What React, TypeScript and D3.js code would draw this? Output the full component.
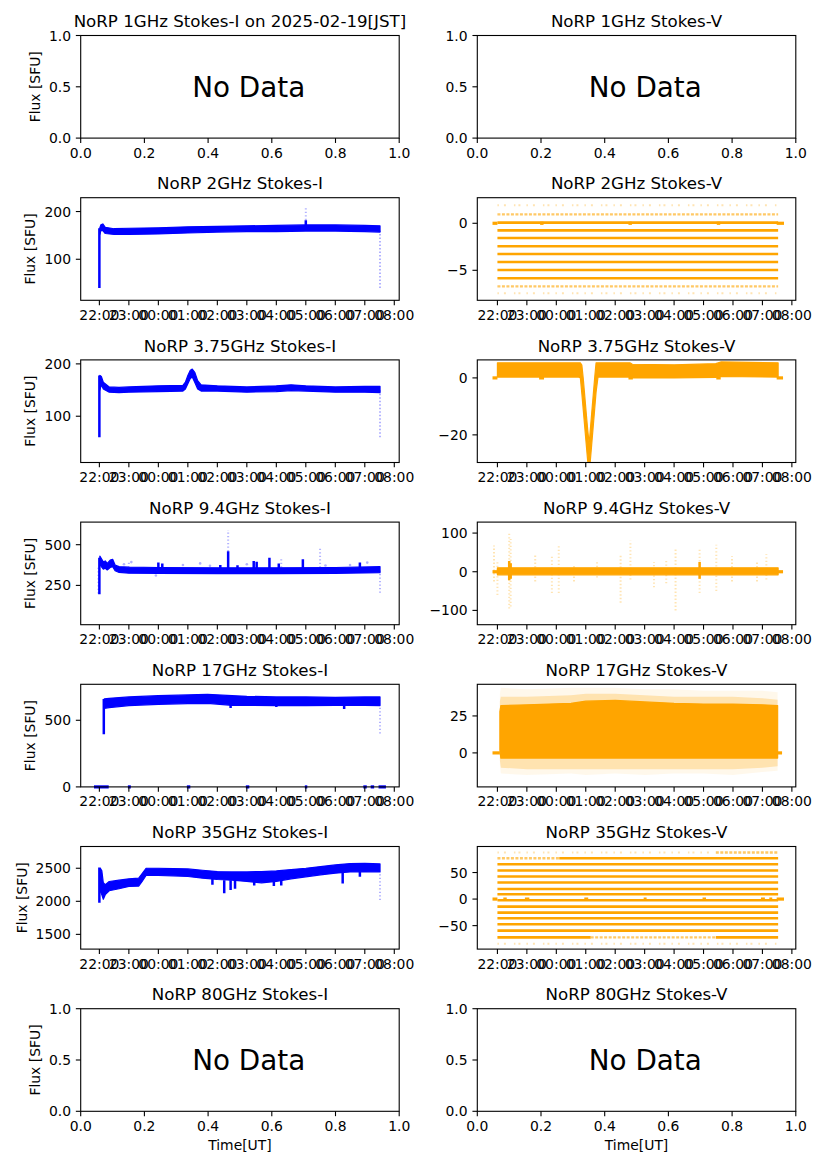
import * as d3 from "d3";

type Seg = [string, number, number]; // time, low, high
type Span = [string, string];
type Level = [number, string, string]; // value, from, to
type Pt = [string, number];
type Band = { t: string[]; lo: number[]; hi: number[] };

const BLUE = "#0000ff";
const ORANGE = "#ffa500";
const FONT = "DejaVu Sans, sans-serif";

const W = 827, H = 1169;
const COL_X = [80.7, 477.3];
const AX_W = 318.5;
const ROW_Y0 = 35.5, ROW_STEP = 162.2, AX_H = 102.6;
const FS = 13.9; // 10pt @ 100dpi

const FREQS = ["1GHz", "2GHz", "3.75GHz", "9.4GHz", "17GHz", "35GHz", "80GHz"];
const DATE_JST = "2025-02-19";

const HOUR_TICKS = ["22:00", "23:00", "00:00", "01:00", "02:00", "03:00", "04:00", "05:00", "06:00", "07:00", "08:00"];
const X_SPAN_LEFT: Span = ["21:22", "08:10"];
const X_SPAN_RIGHT: Span = ["21:19", "08:08"];
const NODATA_X = [0, 0.2, 0.4, 0.6, 0.8, 1.0];
const NODATA_Y = [0, 0.5, 1.0];

// ---- 2 GHz Stokes-I
const I2_T = ["22:01", "22:03", "22:07", "22:12", "22:30", "23:00", "00:00", "01:00", "02:00", "03:00", "04:00", "05:00", "06:00", "07:00", "07:31"];
const I2_LO = [152, 160, 160, 154, 152, 152, 153, 155, 157, 158, 158, 159, 159, 158, 157];
const I2_HI = [166, 172, 174, 167, 164, 165, 166, 168, 169, 170, 171, 172, 172, 171, 170];
const I2_SOLID: Seg[] = [["22:00", 40, 165], ["05:00", 165, 182]];
const I2_FAINT: Seg[] = [["05:00", 175, 208], ["07:31", 40, 160]];

// ---- 3.75 GHz Stokes-I
const I375_T = ["22:01", "22:04", "22:08", "22:20", "22:40", "23:00", "00:00", "00:50", "00:55", "01:00", "01:05", "01:09", "01:14", "01:20", "01:27", "02:00", "03:00", "04:00", "04:30", "05:00", "06:00", "07:00", "07:31"];
const I375_LO = [150, 160, 152, 146, 145, 146, 147, 148, 152, 162, 172, 175, 165, 152, 148, 148, 146, 147, 149, 148, 146, 146, 145];
const I375_HI = [178, 176, 165, 156, 155, 156, 158, 159, 165, 178, 188, 190, 184, 168, 160, 158, 156, 158, 160, 158, 156, 157, 157];
const I375_SOLID: Seg[] = [["22:00", 60, 178]];
const I375_FAINT: Seg[] = [["07:31", 60, 150]];

// ---- 9.4 GHz Stokes-I
const I94_T = ["22:01", "22:04", "22:08", "22:12", "22:16", "22:22", "22:27", "22:32", "22:40", "23:00", "00:00", "02:00", "04:00", "06:00", "07:31"];
const I94_LO = [380, 365, 350, 355, 345, 360, 365, 340, 330, 325, 324, 322, 322, 324, 328];
const I94_HI = [430, 415, 395, 400, 385, 405, 410, 375, 365, 362, 360, 358, 358, 360, 365];
const I94_SOLID: Seg[] = [["22:00", 195, 420], ["00:00", 345, 390], ["00:08", 345, 385], ["02:06", 345, 375], ["02:22", 345, 460], ["02:41", 345, 373], ["03:14", 345, 400], ["03:20", 345, 395], ["03:46", 345, 420], ["04:05", 345, 385], ["04:54", 345, 410], ["06:50", 345, 390]];
const I94_FAINT: Seg[] = [["21:58", 200, 365], ["02:22", 460, 590], ["05:29", 360, 475], ["04:10", 360, 415], ["23:00", 360, 395], ["07:31", 205, 340]];
const I94_DOTS: Pt[] = [["23:05", 393], ["00:50", 375], ["01:25", 385], ["01:45", 370], ["06:30", 375], ["07:05", 390], ["23:55", 311], ["22:50", 380], ["03:00", 380], ["05:40", 372]];

// ---- 17 GHz Stokes-I
const I17_T = ["22:10", "22:20", "23:00", "00:00", "01:00", "01:40", "02:30", "03:00", "04:00", "05:00", "06:00", "07:00", "07:31"];
const I17_LO = [590, 595, 610, 620, 625, 627, 612, 612, 610, 610, 612, 612, 610];
const I17_HI = [660, 665, 675, 685, 690, 695, 685, 680, 675, 675, 672, 675, 675];
const I17_SOLID: Seg[] = [["22:09", 395, 660], ["02:27", 592, 620], ["04:00", 600, 615], ["06:18", 585, 615]];
const I17_FAINT: Seg[] = [["07:31", 400, 610]];
const I17_ZEROS: Span[] = [["21:49", "22:19"], ["22:58", "23:04"], ["00:58", "01:05"], ["02:58", "03:05"], ["04:58", "05:03"], ["06:57", "07:04"], ["07:12", "07:19"], ["07:28", "07:43"]];

// ---- 35 GHz Stokes-I
const I35_T = ["22:02", "22:05", "22:08", "22:12", "22:20", "22:40", "23:00", "23:20", "23:27", "23:35", "00:00", "00:30", "01:00", "01:30", "02:00", "02:30", "03:00", "03:30", "04:00", "04:30", "05:00", "05:30", "06:00", "06:30", "07:00", "07:31"];
const I35_LO = [2150, 2100, 2030, 2100, 2160, 2190, 2225, 2230, 2300, 2390, 2390, 2385, 2375, 2350, 2330, 2320, 2300, 2280, 2300, 2340, 2370, 2400, 2425, 2445, 2450, 2445];
const I35_HI = [2500, 2460, 2280, 2250, 2300, 2320, 2340, 2350, 2420, 2500, 2500, 2495, 2490, 2470, 2450, 2445, 2445, 2450, 2460, 2480, 2500, 2525, 2550, 2570, 2575, 2565];
const I35_SOLID: Seg[] = [["22:00", 1980, 2510], ["01:50", 2250, 2350], ["02:14", 2120, 2320], ["02:27", 2170, 2320], ["02:36", 2190, 2320], ["03:15", 2240, 2300], ["03:55", 2230, 2330], ["04:10", 2240, 2340], ["06:15", 2270, 2450], ["06:50", 2370, 2450]];
const I35_FAINT: Seg[] = [["07:31", 2020, 2440]];

// ---- 2 GHz Stokes-V (quantised levels)
const V2_SPAN: Span = ["22:00", "07:32"];
const V2_SOLID = [0.07, -0.75, -1.56, -2.45, -3.27, -4.12, -4.97, -5.85];
const V2_SEMI = [0.95, -6.71];
const V2_SPARSE = [1.91, -7.45];
const V2_ZEROS: Span[] = [["21:50", "22:00"], ["23:27", "23:34"], ["02:27", "02:34"], ["05:27", "05:34"], ["07:29", "07:44"]];

// ---- 3.75 GHz Stokes-V
const V375_T = ["22:00", "00:45", "00:49", "00:52", "00:55", "00:58", "01:01", "01:04", "01:07", "01:09", "01:12", "01:15", "01:18", "01:21", "01:25", "02:30", "02:35", "04:00", "05:25", "05:35", "07:32"];
const V375_LO = [0.3, 0.3, 0, -5.5, -11.4, -17.4, -23.4, -29.3, -29.7, -29.7, -23.6, -17.5, -11.3, -5, 0.3, 0.3, 0, 0, 0.2, 0.5, 0.3];
const V375_HI = [5.3, 5.3, 5.3, 4.5, -0.4, -6.4, -12.4, -18.3, -23.1, -18.8, -12.6, -6.5, -0.3, 5.3, 5.3, 5.3, 4.8, 4.6, 5.0, 5.6, 5.3];
const V375_ZEROS: Span[] = [["21:50", "22:00"], ["23:25", "23:35"], ["02:27", "02:36"], ["05:26", "05:35"], ["07:29", "07:42"]];

// ---- 9.4 GHz Stokes-V
const V94_T = ["22:00", "07:32"];
const V94_LO = [-8, -8];
const V94_HI = [10, 10];
const V94_SOLID: Seg[] = [["22:24", -22, 28], ["22:27", -18, 22], ["04:52", -18, 25]];
const V94_FAINT: Seg[] = [["21:53", -25, 68], ["22:00", -60, 30], ["22:24", -95, 100], ["22:27", -90, 85], ["23:17", -25, 45], ["23:51", -55, 40], ["00:05", -55, 70], ["00:36", -25, 20], ["01:23", -15, 25], ["02:11", -80, 45], ["02:31", -20, 80], ["03:19", -40, 25], ["03:44", -30, 30], ["04:03", -100, 60], ["04:52", -55, 62], ["05:26", -50, 70], ["05:58", -25, 40], ["06:49", -25, 25], ["07:08", -20, 45]];
const V94_ZEROS: Span[] = [["21:50", "22:00"], ["07:30", "07:42"]];

// ---- 17 GHz Stokes-V
const V17_T = ["22:05", "22:07", "23:00", "00:30", "01:00", "02:00", "03:00", "04:00", "05:00", "06:00", "07:00", "07:31"];
const V17_LO = [2, -3.5, -3.5, -3.5, -3.5, -3.5, -3.5, -3.5, -3.5, -3.5, -3.5, -3.5];
const V17_HI = [28, 32, 32.5, 33.5, 35, 35.5, 34.5, 33.5, 33, 33, 32.5, 32];
const V17_HALO_LO = [-5, -10, -11, -11, -11, -11, -11, -11, -11, -11, -10, -9];
const V17_HALO_HI = [35, 38, 38, 39, 40, 40, 39, 38, 38, 38, 37, 36];
const V17_OUTER_LO = [-8, -14, -15, -14, -15, -14, -15, -14, -14, -15, -13, -12];
const V17_OUTER_HI = [40, 44, 43, 44, 44, 44, 43, 43, 42, 42, 42, 41];
const V17_ZEROS: Span[] = [["21:50", "22:05"], ["07:30", "07:40"]];

// ---- 35 GHz Stokes-V (quantised levels)
const V35_SOLID: Level[] = [
  [77, "00:06", "07:32"], [65.7, "22:00", "07:32"], [53.7, "22:00", "07:32"], [42.4, "22:00", "07:32"],
  [31.1, "22:00", "07:32"], [19.1, "22:00", "07:32"], [9.1, "22:00", "07:32"], [-2.3, "22:00", "07:32"],
  [-14.2, "22:00", "07:32"], [-25.5, "22:00", "07:32"], [-36.2, "22:00", "07:32"], [-47.5, "22:00", "07:32"],
  [-59.5, "22:00", "07:32"], [-72.1, "22:00", "01:10"], [-72.1, "05:25", "07:32"],
];
const V35_SEMI: Level[] = [[77, "22:00", "00:06"], [-72.1, "01:10", "05:25"], [87.7, "05:25", "07:32"]];
const V35_SPARSE: Level[] = [[87.7, "22:00", "05:25"], [-84, "22:00", "07:32"]];
const V35_ZEROS: Span[] = [["21:50", "22:00"], ["22:12", "22:19"], ["22:56", "23:05"], ["00:57", "01:05"], ["02:58", "03:04"], ["04:58", "05:05"], ["06:57", "07:05"], ["07:14", "07:20"], ["07:29", "07:44"]];

type Panel = {
  title: string;
  color: string;
  y?: [number, number];
  yTicks?: number[];
  band?: Band;
  halo?: Band;
  outer?: Band;
  solid?: Seg[];
  faint?: Seg[];
  dots?: Pt[];
  levels?: Level[];
  semi?: Level[];
  sparse?: Level[];
  zeros?: Span[];
};

const onSpan = (vals: number[], s: Span): Level[] => vals.map((v) => [v, s[0], s[1]]);

const ROWS: [Panel, Panel][] = [
  [
    { title: `NoRP ${FREQS[0]} Stokes-I on ${DATE_JST}[JST]`, color: BLUE },
    { title: `NoRP ${FREQS[0]} Stokes-V`, color: ORANGE },
  ],
  [
    { title: `NoRP ${FREQS[1]} Stokes-I`, color: BLUE, y: [14, 229], yTicks: [100, 200], band: { t: I2_T, lo: I2_LO, hi: I2_HI }, solid: I2_SOLID, faint: I2_FAINT },
    { title: `NoRP ${FREQS[1]} Stokes-V`, color: ORANGE, y: [-8.19, 2.72], yTicks: [-5, 0], levels: onSpan(V2_SOLID, V2_SPAN), semi: onSpan(V2_SEMI, V2_SPAN), sparse: onSpan(V2_SPARSE, V2_SPAN), zeros: V2_ZEROS },
  ],
  [
    { title: `NoRP ${FREQS[2]} Stokes-I`, color: BLUE, y: [11.6, 207.6], yTicks: [100, 200], band: { t: I375_T, lo: I375_LO, hi: I375_HI }, solid: I375_SOLID, faint: I375_FAINT },
    { title: `NoRP ${FREQS[2]} Stokes-V`, color: ORANGE, y: [-29.7, 6.32], yTicks: [-20, 0], band: { t: V375_T, lo: V375_LO, hi: V375_HI }, zeros: V375_ZEROS },
  ],
  [
    { title: `NoRP ${FREQS[3]} Stokes-I`, color: BLUE, y: [8.6, 638.8], yTicks: [250, 500], band: { t: I94_T, lo: I94_LO, hi: I94_HI }, solid: I94_SOLID, faint: I94_FAINT, dots: I94_DOTS },
    { title: `NoRP ${FREQS[3]} Stokes-V`, color: ORANGE, y: [-137, 128.4], yTicks: [-100, 0, 100], band: { t: V94_T, lo: V94_LO, hi: V94_HI }, solid: V94_SOLID, faint: V94_FAINT, zeros: V94_ZEROS },
  ],
  [
    { title: `NoRP ${FREQS[4]} Stokes-I`, color: BLUE, y: [0, 770], yTicks: [0, 500], band: { t: I17_T, lo: I17_LO, hi: I17_HI }, solid: I17_SOLID, faint: I17_FAINT, zeros: I17_ZEROS },
    { title: `NoRP ${FREQS[4]} Stokes-V`, color: ORANGE, y: [-23, 46.4], yTicks: [0, 25], band: { t: V17_T, lo: V17_LO, hi: V17_HI }, halo: { t: V17_T, lo: V17_HALO_LO, hi: V17_HALO_HI }, outer: { t: V17_T, lo: V17_OUTER_LO, hi: V17_OUTER_HI }, zeros: V17_ZEROS },
  ],
  [
    { title: `NoRP ${FREQS[5]} Stokes-I`, color: BLUE, y: [1277, 2829], yTicks: [1500, 2000, 2500], band: { t: I35_T, lo: I35_LO, hi: I35_HI }, solid: I35_SOLID, faint: I35_FAINT },
    { title: `NoRP ${FREQS[5]} Stokes-V`, color: ORANGE, y: [-94.2, 99], yTicks: [-50, 0, 50], levels: V35_SOLID, semi: V35_SEMI, sparse: V35_SPARSE, zeros: V35_ZEROS },
  ],
  [
    { title: `NoRP ${FREQS[6]} Stokes-I`, color: BLUE },
    { title: `NoRP ${FREQS[6]} Stokes-V`, color: ORANGE },
  ],
];

// "HH:MM" in UT -> Date (evening hours belong to 02-18, morning to 02-19)
const toDate = (s: string) => {
  const [h, m] = s.split(":").map(Number);
  return new Date(Date.UTC(2025, 1, h >= 12 ? 18 : 19, h, m));
};

const CHAR_W: Record<string, number> = { ".": 0.318, "\u2212": 0.838, "-": 0.361 };
const textW = (s: string) => [...s].reduce((a, c) => a + (CHAR_W[c] ?? 0.636), 0) * FS;

function Axes({ row, col, p }: { row: number; col: number; p: Panel }) {
  const left = COL_X[col], top = ROW_Y0 + row * ROW_STEP;
  const right = left + AX_W, bottom = top + AX_H;
  const timed = !!p.y;
  const y = d3.scaleLinear().domain(p.y ?? [0, 1]).range([bottom, top]);
  const span = col === 0 ? X_SPAN_LEFT : X_SPAN_RIGHT;
  const xt = d3.scaleUtc().domain(span.map(toDate)).range([left, right]);
  const xn = d3.scaleLinear().domain([0, 1]).range([left, right]);
  const X = (s: string) => xt(toDate(s));
  const f1 = d3.format(".1f");
  const fy = timed ? d3.format("d") : f1;

  const xTicks = timed
    ? HOUR_TICKS.map((s) => ({ pos: X(s), label: s }))
    : NODATA_X.map((v) => ({ pos: xn(v), label: f1(v) }));
  const yTicks = (p.yTicks ?? NODATA_Y).map((v) => ({ pos: y(v), label: fy(v) }));
  const maxW = d3.max(yTicks, (d) => textW(d.label)) ?? 0;

  const area = (b: Band) =>
    d3.area<number>().x((i) => X(b.t[i])).y0((i) => y(b.lo[i])).y1((i) => y(b.hi[i]))(d3.range(b.t.length)) ?? "";
  const clipId = `clip-${row}-${col}`;
  const c = p.color;

  const levelLine = (l: Level, i: number, style: Record<string, unknown>) => (
    <line key={i} x1={X(l[1])} x2={X(l[2])} y1={y(l[0])} y2={y(l[0])} stroke={c} {...style} />
  );

  return (
    <g>
      <defs>
        <clipPath id={clipId}>
          <rect x={left} y={top} width={AX_W} height={AX_H} />
        </clipPath>
      </defs>
      <g clipPath={`url(#${clipId})`}>
        {p.outer && <path d={area(p.outer)} fill={c} fillOpacity={0.08} />}
        {p.halo && <path d={area(p.halo)} fill={c} fillOpacity={0.25} />}
        {p.band && <path d={area(p.band)} fill={c} stroke={c} strokeWidth={1.2} strokeLinejoin="round" />}
        {p.faint?.map((s, i) => (
          <line key={`f${i}`} x1={X(s[0])} x2={X(s[0])} y1={y(s[1])} y2={y(s[2])} stroke={c} strokeWidth={2} strokeOpacity={0.3} strokeDasharray="1.3 2.2" />
        ))}
        {p.dots?.map((d, i) => (
          <circle key={`d${i}`} cx={X(d[0])} cy={y(d[1])} r={1.3} fill={c} fillOpacity={0.3} />
        ))}
        {p.solid?.map((s, i) => (
          <line key={`s${i}`} x1={X(s[0])} x2={X(s[0])} y1={y(s[1])} y2={y(s[2])} stroke={c} strokeWidth={2.5} />
        ))}
        {p.sparse?.map((l, i) => levelLine(l, i, { strokeWidth: 2, strokeOpacity: 0.3, strokeDasharray: "1.5 5 2 8 1.5 3 2 6" }))}
        {p.semi?.map((l, i) => levelLine(l, i, { strokeWidth: 2.4, strokeOpacity: 0.6, strokeDasharray: "3 1.5" }))}
        {p.levels?.map((l, i) => levelLine(l, i, { strokeWidth: 2.6 }))}
      </g>
      {p.zeros?.map((z, i) => (
        <line key={`z${i}`} x1={X(z[0])} x2={X(z[1])} y1={y(0)} y2={y(0)} stroke={c} strokeWidth={3.2} />
      ))}
      {!timed && (
        <text x={xn(0.35)} y={(top + bottom) / 2 + 10} textAnchor="start" fontSize={27.8} fill="#000">
          No Data
        </text>
      )}
      <rect x={left} y={top} width={AX_W} height={AX_H} fill="none" stroke="#000" strokeWidth={1.1} />
      {xTicks.map((t, i) => (
        <g key={`xt${i}`}>
          <line x1={t.pos} x2={t.pos} y1={bottom} y2={bottom + 4.86} stroke="#000" strokeWidth={1.1} />
          <text x={t.pos} y={bottom + 19.4} textAnchor="middle" fontSize={FS} fill="#000">{t.label}</text>
        </g>
      ))}
      {yTicks.map((t, i) => (
        <g key={`yt${i}`}>
          <line x1={left - 4.86} x2={left} y1={t.pos} y2={t.pos} stroke="#000" strokeWidth={1.1} />
          <text x={left - 9.72} y={t.pos + 5} textAnchor="end" fontSize={FS} fill="#000">{t.label}</text>
        </g>
      ))}
      <text x={(left + right) / 2} y={top - 8.3} textAnchor="middle" fontSize={16.67} fill="#000">{p.title}</text>
      {col === 0 && (
        <text
          transform={`translate(${left - 9.72 - maxW - 14},${(top + bottom) / 2}) rotate(-90)`}
          textAnchor="middle"
          dominantBaseline="central"
          fontSize={FS}
          fill="#000"
        >
          Flux [SFU]
        </text>
      )}
      {row === ROWS.length - 1 && (
        <text x={(left + right) / 2} y={bottom + 38.7} textAnchor="middle" fontSize={FS} fill="#000">Time[UT]</text>
      )}
    </g>
  );
}

export default function App() {
  return (
    <svg width={W} height={H} viewBox={`0 0 ${W} ${H}`} fontFamily={FONT} style={{ position: "absolute", left: 0, top: 0, background: "#fff" }}>
      <rect width={W} height={H} fill="#fff" />
      {ROWS.map((pair, row) => pair.map((p, col) => <Axes key={`${row}-${col}`} row={row} col={col} p={p} />))}
    </svg>
  );
}
